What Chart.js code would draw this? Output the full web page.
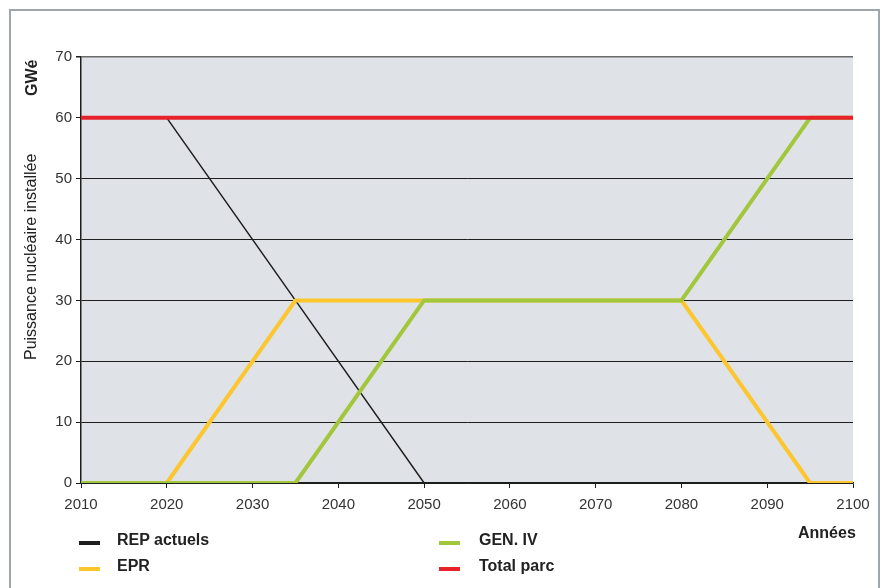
<!DOCTYPE html>
<html>
<head>
<meta charset="utf-8">
<script src="https://cdn.jsdelivr.net/npm/chart.js@4/dist/chart.umd.min.js"></script>
<style>
  html, body { margin:0; padding:0; background:#fff; }
  #wrap { position:relative; width:884px; height:588px; overflow:hidden; font-family:"Liberation Sans", Arial, sans-serif; color:#222; }
  #frame { position:absolute; left:9px; top:9px; width:871px; height:600px; border:2px solid #9ea6ac; box-sizing:border-box; }
  canvas { position:absolute; left:0; top:0; }
  .t { position:absolute; white-space:nowrap; font-size:16px; line-height:16px; }
  .b { font-weight:bold; }
  .rot { transform-origin:0 0; transform:rotate(-90deg); }
  .sw { position:absolute; width:21px; height:4px; }
</style>
</head>
<body>
<div id="wrap">
  <div id="frame"></div>
  <canvas id="c" width="884" height="588"></canvas>
  <div class="t b rot" style="left:24px; top:96px;">GWé</div>
  <div class="t rot" style="left:23px; top:360px;">Puissance nucléaire installée</div>
  <div class="t b" style="left:798px; top:525px;">Années</div>
  <div class="sw" style="left:79px; top:541px; background:#1e1e1e;"></div>
  <div class="t b" style="left:117px; top:532px;">REP actuels</div>
  <div class="sw" style="left:79px; top:567px; background:#fcc62c;"></div>
  <div class="t b" style="left:117px; top:558px;">EPR</div>
  <div class="sw" style="left:439px; top:541px; background:#a2c63c;"></div>
  <div class="t b" style="left:479px; top:532px;">GEN. IV</div>
  <div class="sw" style="left:439px; top:567px; background:#e8222b;"></div>
  <div class="t b" style="left:479px; top:558px;">Total parc</div>
</div>
<script>
const years = [2010, 2020, 2035, 2050, 2080, 2095, 2100];
const repActuels = [60, 60, 30, 0, 0, 0, 0];
const epr = [0, 0, 30, 30, 30, 0, 0];
const genIV = [0, 0, 0, 30, 30, 60, 60];
const totalParc = [60, 60, 60, 60, 60, 60, 60];
const yTicks = [0, 10, 20, 30, 40, 50, 60, 70];
const xTicks = [2010, 2020, 2030, 2040, 2050, 2060, 2070, 2080, 2090, 2100];

const pts = arr => years.map((y, i) => ({ x: y, y: arr[i] }));

const bgPlugin = {
  id: 'plotbg',
  beforeDraw(chart) {
    const a = chart.chartArea, ctx = chart.ctx;
    ctx.save();
    ctx.fillStyle = '#dfe2e7';
    ctx.fillRect(a.left, a.top, a.right - a.left, a.bottom - a.top);
    ctx.restore();
  }
};

const tickFont = { family: '"Liberation Sans", Arial', size: 15 };

new Chart(document.getElementById('c'), {
  type: 'line',
  data: {
    datasets: [
      { label: 'REP actuels', data: pts(repActuels), borderColor: '#1e1e1e', borderWidth: 1.5, order: 4 },
      { label: 'EPR', data: pts(epr), borderColor: '#fcc62c', borderWidth: 4, order: 3 },
      { label: 'GEN. IV', data: pts(genIV), borderColor: '#a2c63c', borderWidth: 4, order: 2 },
      { label: 'Total parc', data: pts(totalParc), borderColor: '#e8222b', borderWidth: 4, order: 1 }
    ]
  },
  options: {
    responsive: false,
    animation: false,
    events: [],
    elements: { point: { radius: 0 }, line: { tension: 0, borderCapStyle: 'butt', borderJoinStyle: 'round' } },
    layout: { padding: { left: 0, top: 57, right: 31, bottom: 75 } },
    plugins: { legend: { display: false }, tooltip: { enabled: false } },
    scales: {
      x: {
        type: 'linear', min: 2010, max: 2100,
        afterBuildTicks: s => { s.ticks = xTicks.map(v => ({ value: v })); },
        afterFit: s => { s.height = 30; },
        border: { display: true, color: '#1e1e1e', width: 1.5 },
        grid: { drawOnChartArea: false, drawTicks: true, tickLength: 5, tickColor: '#1e1e1e' },
        ticks: { color: '#333', font: tickFont, padding: 8, maxRotation: 0, autoSkip: false, callback: v => String(v) }
      },
      y: {
        min: 0, max: 70,
        afterBuildTicks: s => { s.ticks = yTicks.map(v => ({ value: v })); },
        afterFit: s => { s.width = 81; },
        border: { display: true, color: '#1e1e1e', width: 1.5 },
        grid: {
          drawTicks: true, tickLength: 5, tickColor: '#1e1e1e',
          color: c => c.tick && c.tick.value === 70 ? '#6b6b6b' : '#1e1e1e',
          lineWidth: c => c.tick && c.tick.value === 70 ? 1.5 : 1
        },
        ticks: { color: '#333', font: tickFont, padding: 4, callback: v => String(v) }
      }
    }
  },
  plugins: [bgPlugin]
});
</script>
</body>
</html>
